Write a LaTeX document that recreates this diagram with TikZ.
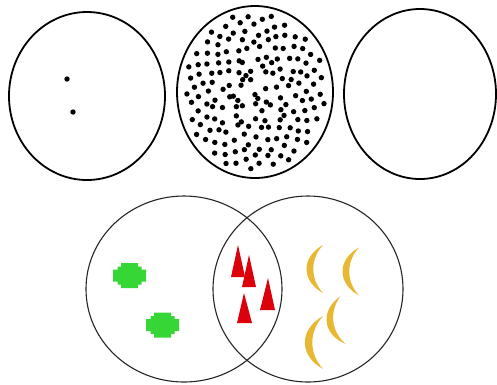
\documentclass[tikz,border=0pt]{standalone}
\usepackage{tikz}
\definecolor{bananaY}{RGB}{232,184,50}
\definecolor{crossG}{RGB}{55,214,55}
\definecolor{triR}{RGB}{220,0,10}
\tikzset{
  bigring/.style={draw=black, line width=1.8pt},
  vennring/.style={draw=black!85, line width=1.1pt},
  dotty/.style={fill=black},
  banana/.pic={\fill[bananaY] (0,-24) .. controls (-22,-12) and (-22,12) .. (0,24)
      .. controls (-13,10) and (-13,-10) .. (0,-24) -- cycle;},
  crossblob/.pic={\fill[crossG] (-8.5,-12.5) -- (8.5,-12.5) -- (8.5,-9) -- (12,-9) -- (12,-6) -- (16.5,-6)
      -- (16.5,6) -- (12,6) -- (12,9) -- (8.5,9) -- (8.5,12.5) -- (-8.5,12.5) -- (-8.5,9) -- (-12,9)
      -- (-12,6) -- (-16.5,6) -- (-16.5,-6) -- (-12,-6) -- (-12,-9) -- (-8.5,-9) -- cycle;}
}
\begin{document}
\begin{tikzpicture}[x=1pt,y=-1pt]
\useasboundingbox[fill=white] (0,0) rectangle (497,384);
% top circles
\draw[bigring] (87,96) ellipse [x radius=78, y radius=84];
\fill[dotty] (67,79) circle (2.7pt);
\fill[dotty] (73,112) circle (2.7pt);
\draw[bigring] (255,92) ellipse [x radius=78, y radius=86];
\pgfmathsetseed{5}
\foreach \i in {1,...,172}{
  \pgfmathsetmacro\ang{10*mod(\i*13.7508,36)}
  \pgfmathsetmacro\rr{0.96*sqrt((\i-0.5)/172)}
  \pgfmathsetmacro\jx{6*rand}
  \pgfmathsetmacro\jy{6*rand}
  \pgfmathsetmacro\px{255+\rr*74*cos(\ang)+\jx*min(1,1.02-\rr)}
  \pgfmathsetmacro\py{92+\rr*82*sin(\ang)+\jy*min(1,1.02-\rr)}
  \fill[dotty] (\px,\py) circle (2.7pt);
}
\draw[bigring] (420,94) ellipse [x radius=76, y radius=85];
% venn
\draw[vennring] (184,289) ellipse [x radius=98, y radius=93];
\draw[vennring] (308,289) ellipse [x radius=95, y radius=93];
% crosses
\pic at (129.5,275.5) {crossblob};
\pic at (162.5,325) {crossblob};
% triangles
\fill[triR] (238,245) -- (245,277) -- (231,277) -- cycle;
\fill[triR] (249,255) -- (256,287) -- (242,287) -- cycle;
\fill[triR] (268,278) -- (275,310) -- (260,310) -- cycle;
\fill[triR] (244,293) -- (252,323) -- (237,323) -- cycle;
% bananas
\pic at (323,269) {banana};
\pic at (359,271.5) {banana};
\pic[rotate=6] at (343,320) {banana};
\pic[scale=1.1] at (323,342.5) {banana};
\end{tikzpicture}
\end{document}
